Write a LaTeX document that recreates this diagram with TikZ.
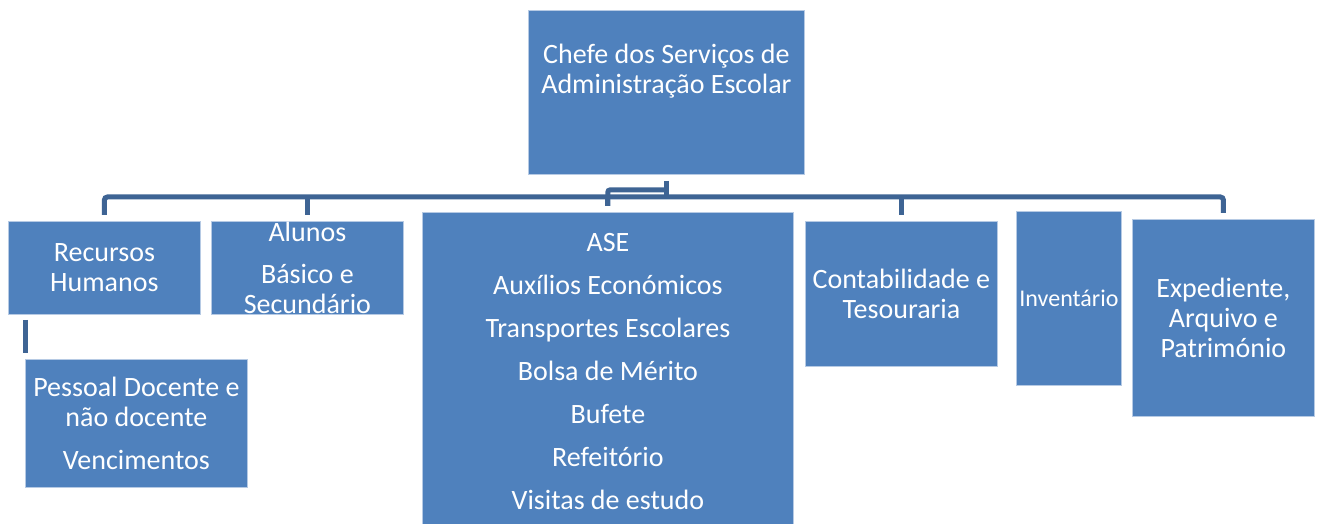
\documentclass[tikz,border=0pt]{standalone}
\usepackage{fontspec}
\setmainfont{Carlito}
\definecolor{boxblue}{RGB}{79,129,189}
\definecolor{edgeblue}{RGB}{182,202,228}
\definecolor{linkblue}{RGB}{62,100,148}

\begin{document}
\begin{tikzpicture}[x=1bp,y=-1bp,
  box/.style={rectangle,fill=boxblue,draw=edgeblue,line width=0.8bp,anchor=north west,inner sep=0pt,
    text=white,align=center,font=\fontsize{28bp}{30bp}\selectfont},
  txt/.style={text=white,align=center,inner sep=0pt,font=\fontsize{28bp}{30bp}\selectfont},
  link/.style={draw=linkblue,line width=5bp}]
\clip (0,0) rectangle (1317,524);
\fill[white] (0,0) rectangle (1317,524);
% top box
\node[box,minimum width=276bp,minimum height=164bp] (chefe) at (528,10) {};
\node[txt] (chefe-t) at ([yshift=21bp]chefe.center) {Chefe dos Serviços de\\Administração Escolar};
% second row
\node[box,minimum width=192bp,minimum height=93bp] (rh) at (8,221) {Recursos\\Humanos};
\node[box,minimum width=192bp,minimum height=93bp] (al) at (211,221) {Alunos\\[12bp]Básico e\\Secundário};
\node[box,minimum width=371bp,minimum height=319bp] (ase) at (422,212)
  {ASE\\[13bp]Auxílios Económicos\\[13bp]Transportes Escolares\\[13bp]Bolsa de Mérito\\[13bp]Bufete\\[13bp]Refeitório\\[13bp]Visitas de estudo};
\node[box,minimum width=192bp,minimum height=145bp] (ct) at (805,221) {Contabilidade e\\Tesouraria};
\node[box,minimum width=105bp,minimum height=174bp,font=\fontsize{24bp}{28bp}\selectfont] (inv) at (1016,211) {Inventário};
\node[box,minimum width=182bp,minimum height=197bp] (ex) at (1132,219) {Expediente,\\Arquivo e\\Património};
% third row
\node[box,minimum width=222bp,minimum height=128bp] (pd) at (25,359) {Pessoal Docente e\\não docente\\[13bp]Vencimentos};
% connectors
\coordinate (bus) at (0,197);
\coordinate (elbow) at (0,190);
\draw[link,rounded corners=3bp] ([yshift=6bp]rh.north) |- (bus -| ex.north) -- ([yshift=6bp]ex.north);
\foreach \n in {al,ase,ct} % drops from the bus
\draw[link] ([yshift=6bp]\n.north) -- (bus -| \n.north);
\draw[link] ([yshift=-6bp]chefe.south) -- (bus -| chefe.south);
\draw[link,rounded corners=2bp] (elbow -| chefe.south) -| ([yshift=6bp]ase.north);
\draw[link] ([yshift=-5bp]rh.south -| pd.north west) -- ([yshift=6bp]pd.north west);
\end{tikzpicture}
\end{document}
